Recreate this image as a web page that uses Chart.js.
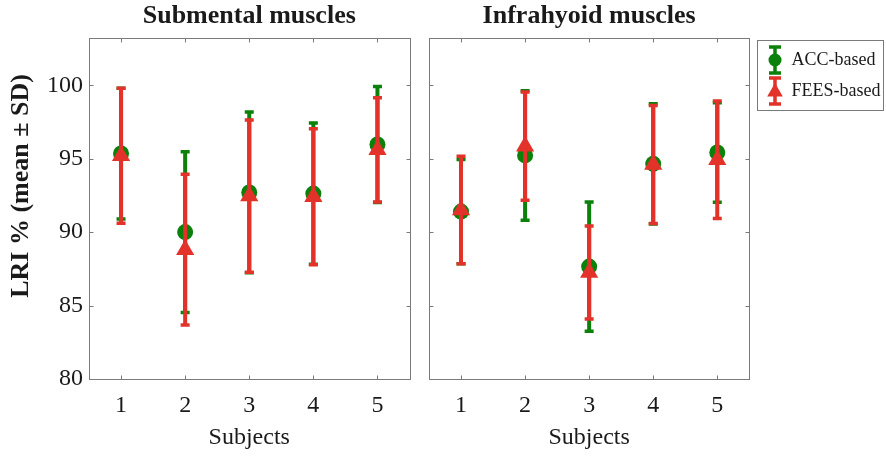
<!DOCTYPE html>
<html>
<head>
<meta charset="utf-8">
<script src="https://cdn.jsdelivr.net/npm/chart.js@4.4.1/dist/chart.umd.min.js"></script>
<style>
body{margin:0;background:#fff;}
#wrap{position:relative;width:886px;height:456px;}
canvas{position:absolute;top:0;}
</style>
</head>
<body>
<div id="wrap">
<canvas id="left" width="420" height="456" style="left:0"></canvas>
<canvas id="right" width="468" height="456" style="left:418px"></canvas>
</div>
<script>
// data
const subjects=[1,2,3,4,5];
const yTicks=[80,85,90,95,100];
const seriesNames=["ACC-based","FEES-based"];
const panelTitles=["Submental muscles","Infrahyoid muscles"];
const xTitle="Subjects";
const yTitle="LRI % (mean ± SD)";

// submental
const subAccMean=[95.35,90.0,92.7,92.62,95.97];
const subAccSd=[4.45,5.47,5.47,4.8,3.95];
const subFeesMean=[95.2,88.8,92.45,92.4,95.6];
const subFeesSd=[4.6,5.13,5.18,4.63,3.55];

// infrahyoid
const infAccMean=[91.4,95.22,87.65,94.65,95.42];
const infAccSd=[3.55,4.41,4.4,4.09,3.38];
const infFeesMean=[91.5,95.85,87.25,94.6,94.92];
const infFeesSd=[3.66,3.68,3.17,4.02,4.0];

const serif="'Liberation Serif','Times New Roman',serif";
const green="#0b800b", red="#e2322a", ink="#1a1a1a", frame="#7a7a7a";

function points(means){
  return subjects.map((s,i)=>({x:s,y:means[i]}));
}

// vertical bars with caps, drawn just before each dataset's markers
const errorBars={
  id:'errorBars',
  beforeDatasetDraw(chart,args){
    const ds=chart.data.datasets[args.index];
    const xs=chart.scales.x, ys=chart.scales.y, ctx=chart.ctx;
    ctx.save();
    ctx.strokeStyle=ds.borderColor;
    ds.data.forEach((p,i)=>{
      const px=xs.getPixelForValue(p.x);
      const top=ys.getPixelForValue(p.y+ds.sd[i]);
      const bot=ys.getPixelForValue(p.y-ds.sd[i]);
      ctx.lineWidth=4;
      ctx.beginPath();ctx.moveTo(px,top);ctx.lineTo(px,bot);ctx.stroke();
      ctx.lineWidth=3.5;
      ctx.beginPath();
      ctx.moveTo(px-4.5,top);ctx.lineTo(px+4.5,top);
      ctx.moveTo(px-4.5,bot);ctx.lineTo(px+4.5,bot);
      ctx.stroke();
    });
    ctx.restore();
  }
};

// box round the plot with inward ticks
const frameTicks={
  id:'frameTicks',
  beforeDatasetsDraw(chart){
    const ctx=chart.ctx, a=chart.chartArea;
    const L=Math.round(a.left)+0.5, R=Math.round(a.right)+0.5;
    const T=Math.round(a.top)+0.5, B=Math.round(a.bottom)+0.5;
    ctx.save();
    ctx.strokeStyle=frame;ctx.lineWidth=1;
    ctx.strokeRect(L,T,R-L,B-T);
    ctx.beginPath();
    chart.scales.x.ticks.forEach(t=>{
      const px=Math.round(chart.scales.x.getPixelForValue(t.value))+0.5;
      ctx.moveTo(px,B);ctx.lineTo(px,B-4);
      ctx.moveTo(px,T);ctx.lineTo(px,T+4);
    });
    chart.scales.y.ticks.forEach(t=>{
      const py=Math.round(chart.scales.y.getPixelForValue(t.value))+0.5;
      ctx.moveTo(L,py);ctx.lineTo(L+4,py);
      ctx.moveTo(R,py);ctx.lineTo(R-4,py);
    });
    ctx.stroke();
    ctx.restore();
  }
};

const yLabel={
  id:'yLabel',
  afterDraw(chart){
    const ctx=chart.ctx;
    ctx.save();
    ctx.translate(21,186);
    ctx.rotate(-Math.PI/2);
    ctx.font="bold 26px "+serif;
    ctx.fillStyle=ink;
    ctx.textAlign='center';
    ctx.textBaseline='middle';
    ctx.fillText(yTitle,0,0);
    ctx.restore();
  }
};

const legendBox={
  id:'legendBox',
  afterDraw(chart){
    const ctx=chart.ctx;
    const bx=Math.round(chart.chartArea.right)+8.5, by=40.5, bw=126, bh=70;
    ctx.save();
    ctx.strokeStyle=frame;ctx.lineWidth=1;
    ctx.strokeRect(bx,by,bw,bh);
    chart.data.datasets.forEach((ds,i)=>{
      const cx=bx+17.5, cy=by+19.5+i*31;
      ctx.strokeStyle=ds.borderColor;
      ctx.lineWidth=3.5;
      ctx.beginPath();
      ctx.moveTo(cx,cy-13);ctx.lineTo(cx,cy+13);
      ctx.moveTo(cx-6,cy-13);ctx.lineTo(cx+6,cy-13);
      ctx.moveTo(cx-6,cy+13);ctx.lineTo(cx+6,cy+13);
      ctx.stroke();
      ctx.fillStyle=ds.backgroundColor;
      Chart.helpers.drawPoint(ctx,{pointStyle:ds.pointStyle,radius:ds.pointStyle==='circle'?6.5:9,borderWidth:0,rotation:0},cx,cy+(ds.pointStyle==='circle'?0:1));
      ctx.fillStyle=ink;
      ctx.font="18px "+serif;
      ctx.textAlign='left';
      ctx.textBaseline='middle';
      ctx.fillText(ds.label,bx+34,cy);
    });
    ctx.restore();
  }
};

function makeChart(id,title,acc,accSd,fees,feesSd,isLeft){
  return new Chart(document.getElementById(id),{
    type:'scatter',
    data:{datasets:[
      {label:seriesNames[0],data:points(acc),sd:accSd,backgroundColor:green,borderColor:green,
       pointStyle:'circle',pointRadius:8,pointBorderWidth:0,order:2},
      {label:seriesNames[1],data:points(fees),sd:feesSd,backgroundColor:red,borderColor:red,
       pointStyle:'triangle',pointRadius:10.5,pointBorderWidth:0,order:1}
    ]},
    options:{
      responsive:false,devicePixelRatio:1,animation:false,events:[],
      layout:{padding:{left:0,right:isLeft?10.5:136.7,top:0,bottom:0}},
      plugins:{
        legend:{display:false},
        tooltip:{enabled:false},
        title:{display:true,text:title,fullSize:false,color:ink,
          font:{family:serif,size:26,weight:'bold'},padding:{top:1,bottom:6}}
      },
      scales:{
        x:{type:'linear',min:0.5,max:5.5,
          afterBuildTicks:s=>{s.ticks=subjects.map(v=>({value:v}));},
          afterFit:s=>{s.height=77;},
          grid:{display:false,drawTicks:false},border:{display:false},
          ticks:{font:{family:serif,size:24},color:ink,padding:12,maxRotation:0},
          title:{display:true,text:xTitle,color:ink,font:{family:serif,size:24},padding:{top:0,bottom:4}}},
        y:{type:'linear',min:80,max:103.2,
          afterBuildTicks:s=>{s.ticks=yTicks.map(v=>({value:v}));},
          afterFit:s=>{s.width=isLeft?89:11;},
          grid:{display:false,drawTicks:false},border:{display:false},
          ticks:{display:isLeft,font:{family:serif,size:24},color:ink,padding:6}}
      }
    },
    plugins:[frameTicks,errorBars,isLeft?yLabel:legendBox]
  });
}

makeChart('left',panelTitles[0],subAccMean,subAccSd,subFeesMean,subFeesSd,true);
makeChart('right',panelTitles[1],infAccMean,infAccSd,infFeesMean,infFeesSd,false);
</script>
</body>
</html>
